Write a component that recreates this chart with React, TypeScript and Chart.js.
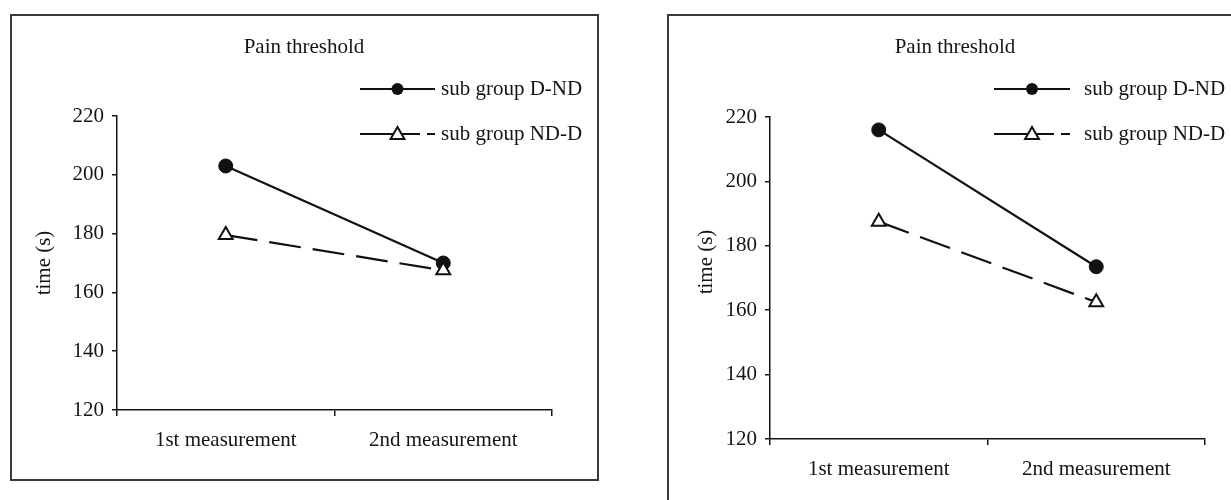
import React, { useEffect, useRef } from "react";
import { Chart, registerables } from "chart.js";

Chart.register(...registerables);

// ---- data ----
const categories = ["1st measurement", "2nd measurement"];
const seriesNames = ["sub group D-ND", "sub group ND-D"];
const leftDND = [203, 170];
const leftNDD = [179.5, 167.5];
const rightDND = [216, 173.5];
const rightNDD = [187.5, 162.5];
const yMin = 120;
const yMax = 220;
const yStep = 20;
const chartTitle = "Pain threshold";
const yTitle = "time (s)";

const FONT = "'Liberation Serif', 'Times New Roman', serif";
const FS = 21;
const INK = "#161415";

type Layout = {
  left: number;
  top: number;
  width: number;
  height: number;
  yAxisWidth: number;
  xAxisHeight: number;
  padRight: number;
  padTop: number;
  titleX: number;
  titleY: number;
  yTitleX: number;
  yTitleY: number;
  legLineX0: number;
  legLineX1: number;
  legTextX: number;
  legY0: number;
  legY1: number;
};

const leftLayout: Layout = {
  left: 10, top: 14, width: 585, height: 463,
  yAxisWidth: 105, xAxisHeight: 69, padRight: 45, padTop: 100,
  titleX: 292, titleY: 31,
  yTitleX: 32, yTitleY: 247,
  legLineX0: 348, legLineX1: 423, legTextX: 429, legY0: 73, legY1: 118,
};

const rightLayout: Layout = {
  left: 667, top: 14, width: 572, height: 492,
  yAxisWidth: 101, xAxisHeight: 69, padRight: 36, padTop: 101,
  titleX: 286, titleY: 31,
  yTitleX: 37, yTitleY: 246,
  legLineX0: 325, legLineX1: 401, legTextX: 415, legY0: 73, legY1: 118,
};

function trianglePath(ctx: CanvasRenderingContext2D, x: number, y: number, r: number) {
  let rad = 0;
  ctx.beginPath();
  ctx.moveTo(x + Math.sin(rad) * r, y - Math.cos(rad) * r);
  rad += (2 * Math.PI) / 3;
  ctx.lineTo(x + Math.sin(rad) * r, y - Math.cos(rad) * r);
  rad += (2 * Math.PI) / 3;
  ctx.lineTo(x + Math.sin(rad) * r, y - Math.cos(rad) * r);
  ctx.closePath();
}

function makeDecor(lay: Layout) {
  return {
    id: "decor",
    afterDraw(chart: any) {
      const ctx: CanvasRenderingContext2D = chart.ctx;
      ctx.save();
      ctx.fillStyle = INK;
      ctx.font = `${FS}px ${FONT}`;
      ctx.textAlign = "center";
      ctx.textBaseline = "middle";
      // chart title
      ctx.fillText(chartTitle, lay.titleX, lay.titleY);
      // y-axis title
      ctx.save();
      ctx.translate(lay.yTitleX, lay.yTitleY);
      ctx.rotate(-Math.PI / 2);
      ctx.fillText(yTitle, 0, 0);
      ctx.restore();

      // legend
      const mid = (lay.legLineX0 + lay.legLineX1) / 2;
      ctx.strokeStyle = "#111";
      ctx.lineWidth = 2;
      ctx.setLineDash([]);
      ctx.beginPath();
      ctx.moveTo(lay.legLineX0, lay.legY0);
      ctx.lineTo(lay.legLineX1, lay.legY0);
      ctx.stroke();
      ctx.fillStyle = "#111";
      ctx.beginPath();
      ctx.arc(mid, lay.legY0, 6, 0, Math.PI * 2);
      ctx.fill();
      ctx.setLineDash([60, 7, 9, 60]);
      ctx.beginPath();
      ctx.moveTo(lay.legLineX0, lay.legY1);
      ctx.lineTo(lay.legLineX1, lay.legY1);
      ctx.stroke();
      ctx.setLineDash([]);
      trianglePath(ctx, mid, lay.legY1 + 1, 8);
      ctx.fillStyle = "#fff";
      ctx.fill();
      ctx.stroke();

      ctx.fillStyle = INK;
      ctx.textAlign = "left";
      ctx.fillText(seriesNames[0], lay.legTextX, lay.legY0);
      ctx.fillText(seriesNames[1], lay.legTextX, lay.legY1);
      ctx.restore();
    },
  };
}

function Panel({ lay, dnd, ndd }: { lay: Layout; dnd: number[]; ndd: number[] }) {
  const ref = useRef<HTMLCanvasElement>(null);
  useEffect(() => {
    if (!ref.current) return;
    const chart = new Chart(ref.current, {
      type: "line",
      data: {
        labels: categories,
        datasets: [
          {
            label: seriesNames[0],
            data: dnd,
            borderColor: "#111",
            borderWidth: 2.2,
            pointStyle: "circle",
            pointRadius: 7,
            pointBackgroundColor: "#111",
            pointBorderColor: "#111",
            pointBorderWidth: 1,
            order: 1,
          },
          {
            label: seriesNames[1],
            data: ndd,
            borderColor: "#111",
            borderWidth: 2.2,
            borderDash: [32, 12],
            pointStyle: "triangle",
            pointRadius: 8,
            pointBackgroundColor: "#fff",
            pointBorderColor: "#111",
            pointBorderWidth: 2,
            order: 0,
          },
        ],
      },
      options: {
        responsive: false,
        animation: false,
        layout: { padding: { left: 0, right: lay.padRight, top: lay.padTop, bottom: 0 } },
        plugins: {
          legend: { display: false },
          tooltip: { enabled: false },
          title: { display: false },
        },
        scales: {
          x: {
            type: "category",
            offset: true,
            afterFit: (s: any) => { s.height = lay.xAxisHeight; },
            grid: {
              display: true,
              offset: true,
              drawOnChartArea: false,
              drawTicks: true,
              tickLength: 6,
              color: INK,
              lineWidth: 1.5,
            },
            border: { display: true, color: INK, width: 1.5 },
            ticks: {
              color: INK,
              padding: 12,
              maxRotation: 0,
              font: { family: FONT, size: FS },
            },
          },
          y: {
            min: yMin,
            max: yMax,
            afterFit: (s: any) => { s.width = lay.yAxisWidth; },
            grid: {
              display: true,
              drawOnChartArea: false,
              drawTicks: true,
              tickLength: 5,
              color: INK,
              lineWidth: 1.5,
            },
            border: { display: true, color: INK, width: 1.5 },
            ticks: {
              stepSize: yStep,
              color: INK,
              padding: 8,
              font: { family: FONT, size: FS },
            },
          },
        },
      },
      plugins: [makeDecor(lay)],
    });
    return () => chart.destroy();
  }, [lay, dnd, ndd]);

  return (
    <div
      style={{
        position: "absolute",
        left: lay.left,
        top: lay.top,
        width: lay.width,
        height: lay.height,
        border: "2px solid #3a3a3a",
        background: "#fff",
      }}
    >
      <canvas ref={ref} width={lay.width} height={lay.height} style={{ display: "block" }} />
    </div>
  );
}

export default function App() {
  return (
    <div
      style={{
        position: "absolute",
        left: 0,
        top: 0,
        width: 1231,
        height: 500,
        overflow: "hidden",
        background: "#fff",
      }}
    >
      <Panel lay={leftLayout} dnd={leftDND} ndd={leftNDD} />
      <Panel lay={rightLayout} dnd={rightDND} ndd={rightNDD} />
    </div>
  );
}
